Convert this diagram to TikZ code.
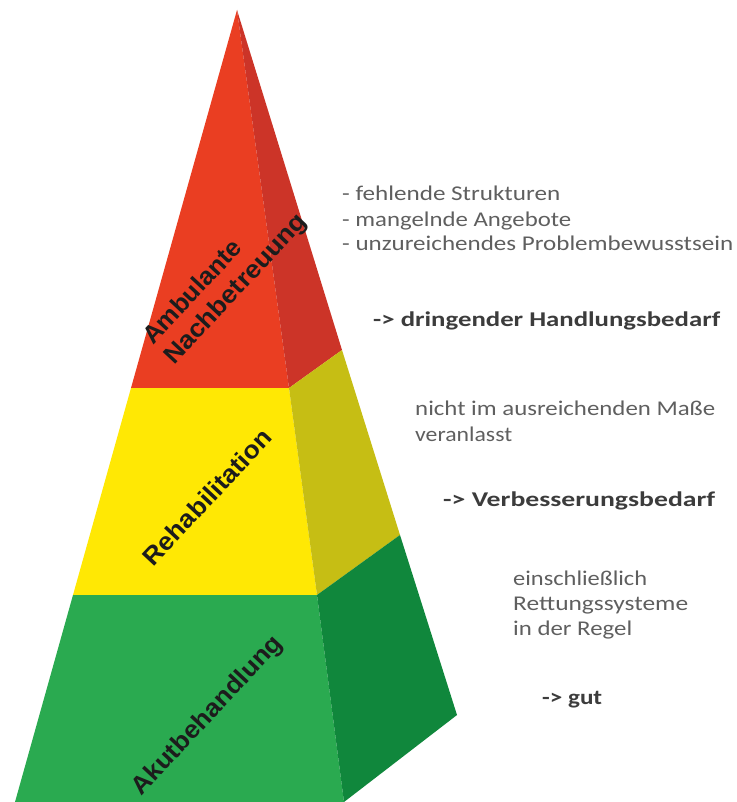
\documentclass[tikz,border=0pt]{standalone}
\usepackage{fontspec}
\usepackage{graphicx}
\setmainfont{Carlito}
\newfontfamily\labfont{Liberation Sans}
\definecolor{redF}{RGB}{234,62,34}
\definecolor{redS}{RGB}{204,52,40}
\definecolor{yelF}{RGB}{255,232,4}
\definecolor{yelS}{RGB}{198,190,20}
\definecolor{grnF}{RGB}{42,170,80}
\definecolor{grnS}{RGB}{16,135,60}
\definecolor{descgray}{RGB}{95,95,95}
\definecolor{verdgray}{RGB}{60,60,60}
\definecolor{labcol}{RGB}{28,28,28}
\newcommand{\hs}[2]{\resizebox{#1pt}{\height}{#2}}
\begin{document}
\begin{tikzpicture}[x=1pt,y=-1pt,
  desc/.style={anchor=base west, inner sep=0pt, text=descgray, font=\fontsize{21}{21}\selectfont},
  verdict/.style={desc, text=verdgray, font=\fontsize{21}{21}\selectfont\bfseries},
  layer/.style={inner sep=0pt, rotate=47, text=labcol, font=\labfont\bfseries\fontsize{25}{25}\selectfont}]
\useasboundingbox (0,0) rectangle (736,802);
% pyramid corners
\coordinate (A)  at (237,10);
\coordinate (L1) at (131,388);
\coordinate (L2) at (73,595);
\coordinate (BL) at (15,802);
\coordinate (E1) at (289,388);
\coordinate (E2) at (317,595);
\coordinate (E3) at (344,802);
\coordinate (R1) at (342,350);
\coordinate (R2) at (400,535);
\coordinate (R3) at (457,715);
% front faces
\fill[redF] (A) -- (L1) -- (E1) -- cycle;
\fill[yelF] (L1) -- (L2) -- (E2) -- (E1) -- cycle;
\fill[grnF] (L2) -- (BL) -- (E3) -- (E2) -- cycle;
% side faces
\fill[redS] (A) -- (E1) -- (R1) -- cycle;
\fill[yelS] (E1) -- (E2) -- (R2) -- (R1) -- cycle;
\fill[grnS] (E2) -- (E3) -- (R3) -- (R2) -- cycle;
% layer labels
\node[layer, anchor=base west] (amb) at (153,346) {\hs{132}{Ambulante}};
\node[layer, anchor=base west] (nach) at (174,366) {\hs{196}{Nachbetreuung}};
\node[layer] (reha) at (207,497) {\hs{175}{Rehabilitation}};
\node[layer] (akut) at (208,716) {\hs{208}{Akutbehandlung}};
% descriptions
\node[desc] (t1) at (342,201) {\hs{218}{- fehlende Strukturen}};
\node[desc] (t2) at (342,226) {\hs{229}{- mangelnde Angebote}};
\node[desc] (t3) at (342,251) {\hs{391}{- unzureichendes Problembewusstsein}};
\node[verdict] (v1) at (373,326) {\hs{347}{-> dringender Handlungsbedarf}};
\node[desc] (t4) at (415,415) {\hs{300}{nicht im ausreichenden Maße}};
\node[desc] (t5) at (415,441) {\hs{97}{veranlasst}};
\node[verdict] (v2) at (443,506) {\hs{272}{-> Verbesserungsbedarf}};
\node[desc] (t6) at (513,585) {\hs{134}{einschließlich}};
\node[desc] (t7) at (513,610) {\hs{175}{Rettungssysteme}};
\node[desc] (t8) at (513,635) {\hs{119}{in der Regel}};
\node[verdict] (v3) at (542,704) {\hs{60}{-> gut}};
\end{tikzpicture}
\end{document}
